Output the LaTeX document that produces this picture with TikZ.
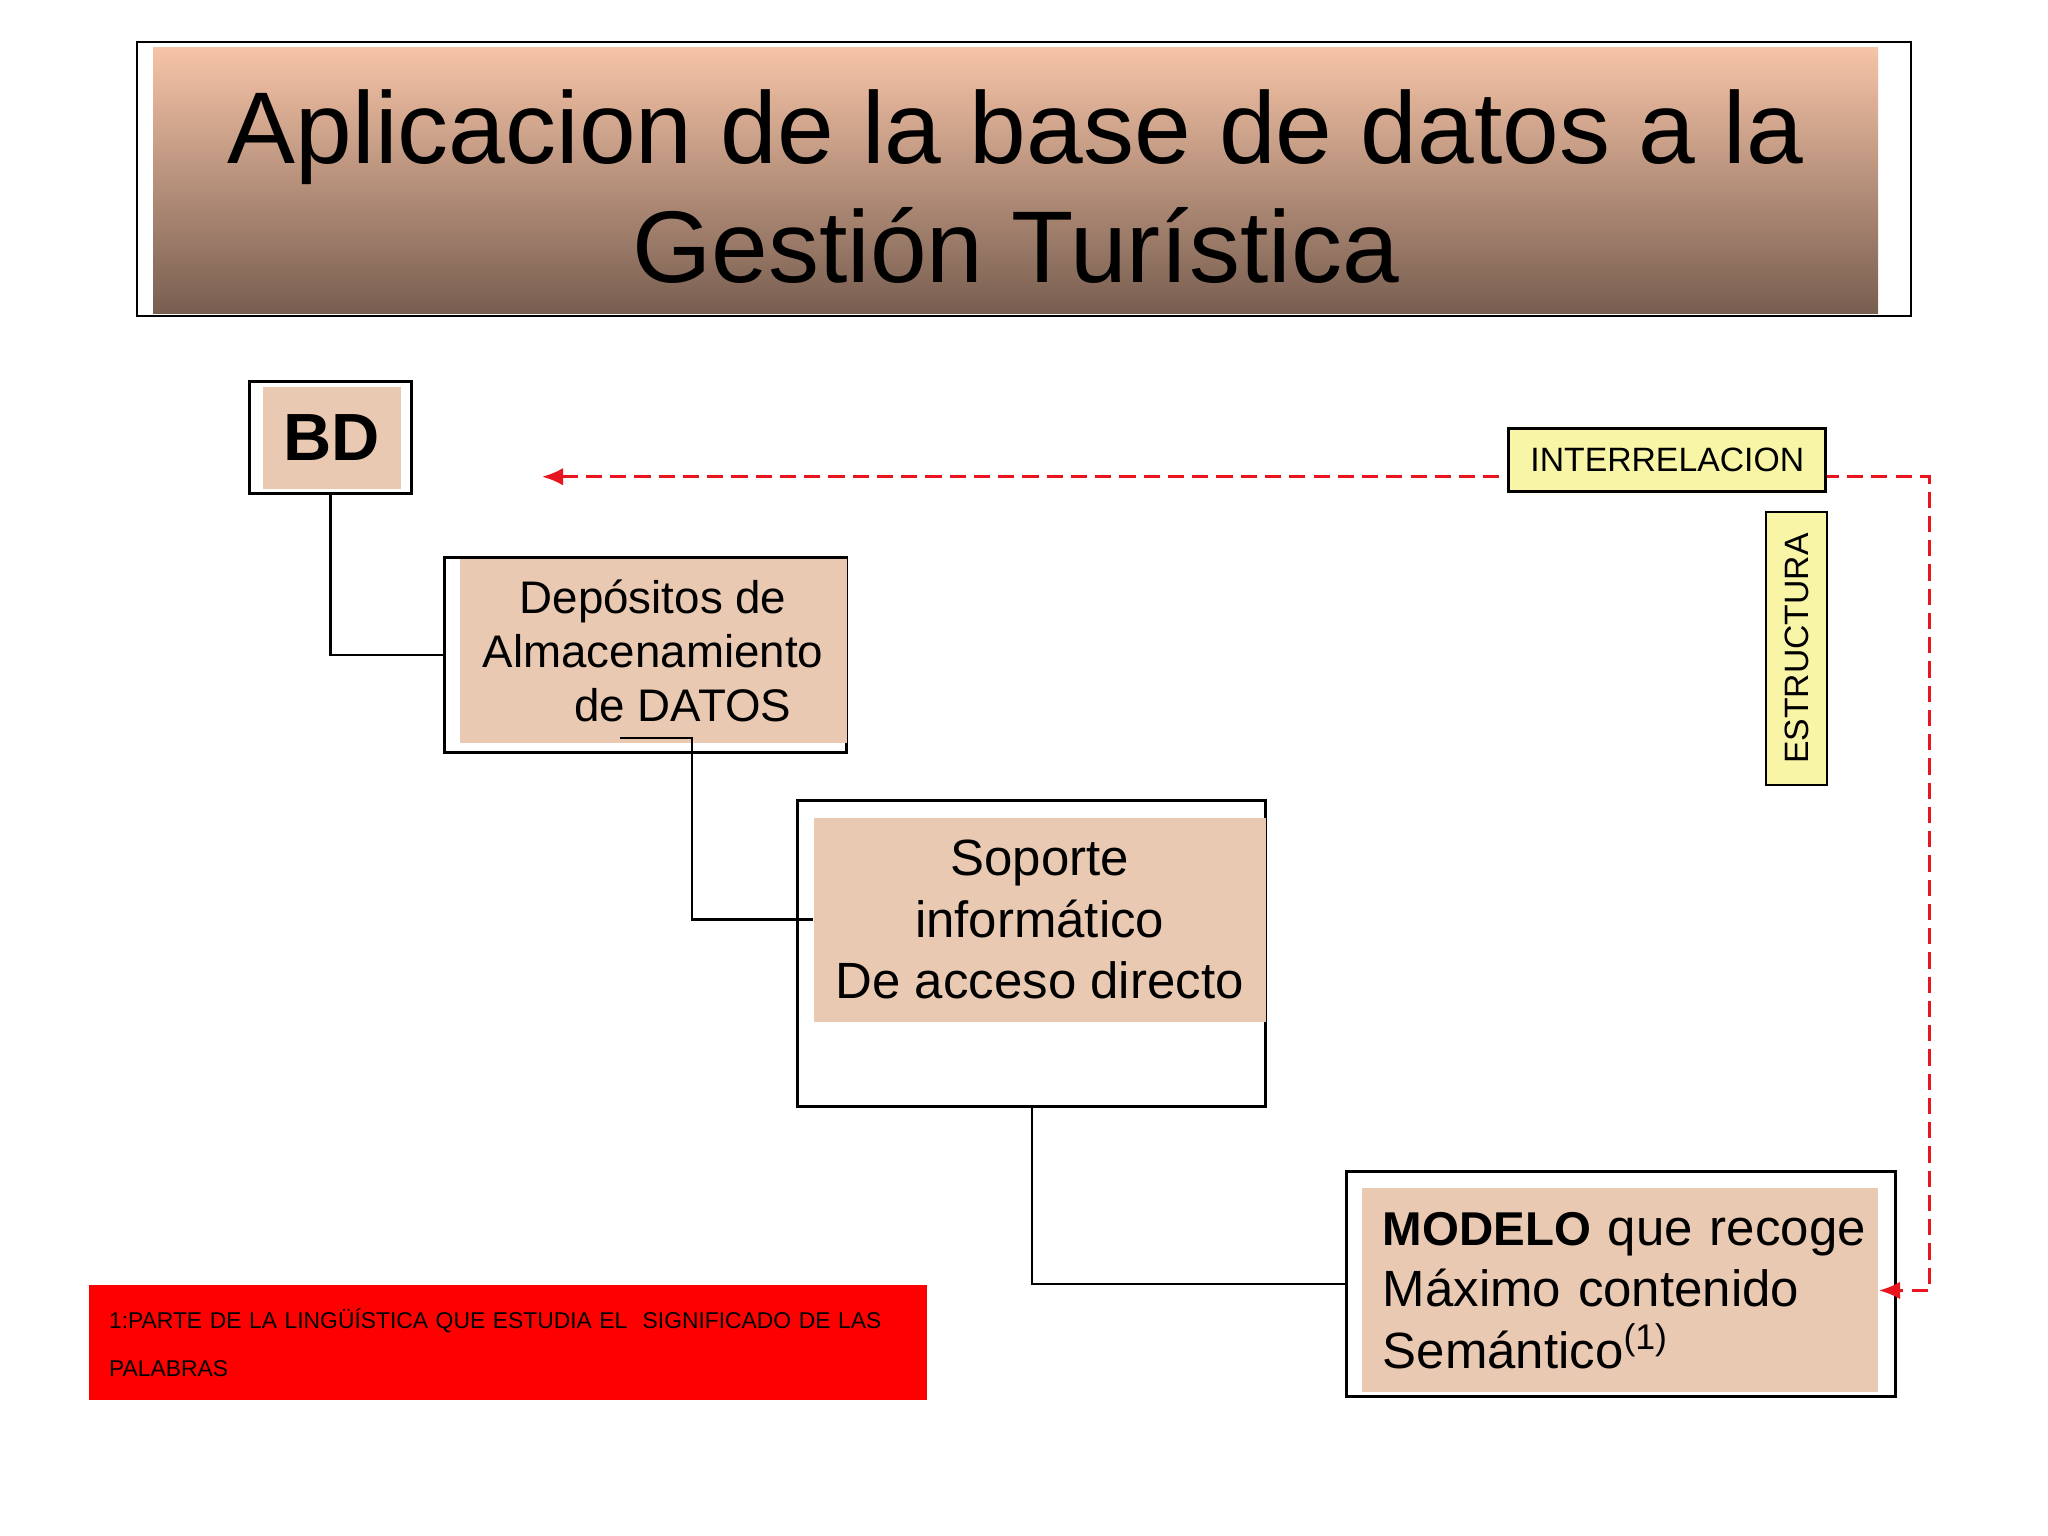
\documentclass[tikz,border=0pt]{standalone}
\usepackage{fontspec}
\setmainfont{Liberation Sans}
\usetikzlibrary{arrows.meta,positioning}
\definecolor{SlidePeach}{HTML}{E9C9B2}
\definecolor{SlideTop}{HTML}{F6C4A7}
\definecolor{SlideBottom}{HTML}{785E50}
\definecolor{SlideTag}{HTML}{F8F5A6}
\definecolor{SlideRed}{HTML}{FF0000}
\definecolor{SlideLink}{HTML}{E8141E}
\tikzset{
  every node/.style={text=black, inner sep=0pt},
  frame/.style={draw=black, line width=0.8pt},
  panel/.style={fill=SlidePeach},
  tag/.style={draw=black, line width=0.8pt, fill=SlideTag, font=\fontsize{9.6}{11}\selectfont},
  wire/.style={draw=black, line width=0.7pt},
  link/.style={{Latex[length=6pt,width=5pt]}-{Latex[length=6pt,width=5pt]}, draw=SlideLink, line width=0.8pt, dash pattern=on 4.6pt off 2.3pt},
}

\begin{document}
\begin{tikzpicture}[x=0.01306cm, y=-0.01306cm]
  \fill[white] (0,0) rectangle (1568,1176);
  % Title banner
  \node[frame, minimum width=17.74cm, minimum height=2.74cm] (banner) at (784,137) {};
  \node[top color=SlideTop, bottom color=SlideBottom, minimum width=17.25cm, minimum height=2.66cm] (titlefill) at (777.5,138) {};
  \node[align=center, font=\fontsize{29}{34}\selectfont] (title) at (777.5,143)
    {Aplicacion de la base de datos a la\\Gestión Turística};
  % Boxes
  \node[frame, minimum width=1.62cm, minimum height=1.12cm] (bd) at (253,335) {};
  \node[panel, minimum width=1.38cm, minimum height=1.02cm, font=\fontsize{19}{22}\selectfont\bfseries] (bdfill) at (254,335) {BD};
  \node[frame, minimum width=4.02cm, minimum height=1.95cm] (dep) at (494,501.5) {};
  \node[panel, minimum width=3.87cm, minimum height=1.84cm, align=center, font=\fontsize{13}{15.4}\selectfont] (depfill) at (500,498.5)
    {Depósitos de\\Almacenamiento\\\hspace*{1.3em}de DATOS};
  \node[frame, minimum width=4.68cm, minimum height=3.06cm] (sop) at (790,730) {};
  \node[panel, minimum width=4.52cm, minimum height=2.04cm, align=center, font=\fontsize{14.5}{17.5}\selectfont] (sopfill) at (796,704)
    {Soporte\\informático\\De acceso directo};
  \node[frame, minimum width=5.49cm, minimum height=2.25cm] (mod) at (1241,983) {};
  \node[panel, minimum width=5.16cm, minimum height=2.04cm, text width=4.75cm, align=left, font=\fontsize{14.5}{17.5}\selectfont] (modfill) at (1240.5,988)
    {{\fontsize{13.5}{17.5}\selectfont\bfseries MODELO}~que~recoge\\Máximo contenido\\Semántico\textsuperscript{(1)}};
  % Connectors
  \draw[wire] (bd.south) |- (dep.west);
  \coordinate (depstub) at (475,565);
  \draw[wire] (depstub) -- ++(55,0) |- (sopfill.west);
  \draw[wire] (sop.south) |- (mod.west);
  % Dashed relation
  \coordinate (linktip) at (415,365);
  \coordinate (linkbend) at (1477,365);
  \draw[link] (linktip) -- (linkbend) |- (modfill.east);
  \node[tag, minimum width=3.17cm, minimum height=0.63cm] (inter) at (1276.5,352) {INTERRELACION};
  \node[tag, rotate=90, minimum width=2.73cm, minimum height=0.61cm] (estr) at (1375.5,496.5) {ESTRUCTURA};
  % Footnote
  \node[fill=SlideRed, minimum width=8.38cm, minimum height=1.15cm, text width=7.98cm, align=left, font=\fontsize{6.5}{13.7}\selectfont] (nota) at (389,1028)
    {1:PARTE DE LA LINGÜÍSTICA QUE ESTUDIA EL~ SIGNIFICADO DE LAS\\PALABRAS};
\end{tikzpicture}
\end{document}
